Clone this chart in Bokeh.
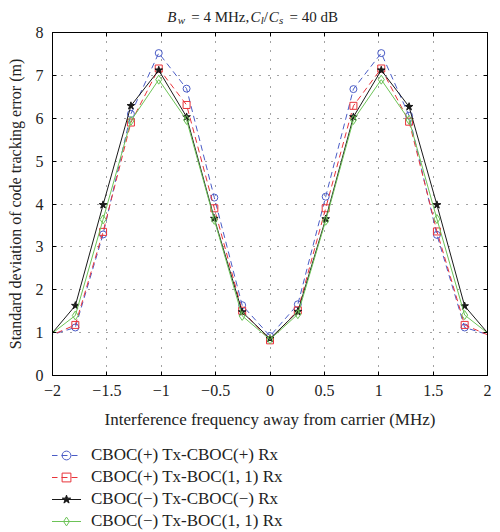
from bokeh.plotting import figure
from bokeh.layouts import column
from bokeh.models import (Range1d, FixedTicker, LinearAxis, CustomJSTickFormatter,
                          Legend, LegendItem)
from bokeh.core.properties import value
from bokeh.embed import file_html
from bokeh.resources import INLINE

# ---------------- data ----------------
freq = [-2.046, -1.790, -1.535, -1.279, -1.023, -0.767, -0.512, -0.256, 0.0,
        0.256, 0.512, 0.767, 1.023, 1.279, 1.535, 1.790, 2.046]
cboc_p_cboc_p = [0.92, 1.12, 3.29, 6.10, 7.52, 6.69, 4.15, 1.64, 0.92,
                 1.66, 4.17, 6.68, 7.52, 6.06, 3.28, 1.12, 0.92]
cboc_p_boc = [0.90, 1.18, 3.35, 5.90, 7.16, 6.31, 3.90, 1.51, 0.82,
              1.52, 3.90, 6.29, 7.16, 5.92, 3.36, 1.18, 0.90]
cboc_m_cboc_m = [0.86, 1.63, 3.98, 6.29, 7.12, 6.03, 3.66, 1.48, 0.86,
                 1.49, 3.65, 6.03, 7.12, 6.27, 3.98, 1.62, 0.86]
cboc_m_boc = [0.90, 1.40, 3.64, 5.94, 6.90, 5.96, 3.63, 1.39, 0.84,
              1.43, 3.61, 5.96, 6.90, 5.96, 3.65, 1.41, 0.90]
labels = ["CBOC(+) Tx-CBOC(+) Rx", "CBOC(+) Tx-BOC(1, 1) Rx",
          "CBOC(\u2212) Tx-CBOC(\u2212) Rx", "CBOC(\u2212) Tx-BOC(1, 1) Rx"]
x_ticks = [-2, -1.5, -1, -0.5, 0, 0.5, 1, 1.5, 2]
y_ticks = [0, 1, 2, 3, 4, 5, 6, 7, 8]
title_parts = ["B", "w", "= 4 MHz,", "C", "l", "/", "C", "s", "= 40 dB"]

FONT = "Liberation Serif"
TXT = "#222222"
W = 500
BL, BR = 52, 13

# ---------------- title strip ----------------
TH = 24
tp = figure(width=W, height=TH, output_backend="svg", toolbar_location=None,
            x_range=Range1d(0, W - BL - BR), y_range=Range1d(0, TH),
            x_axis_location=None, y_axis_location=None,
            min_border_left=BL, min_border_right=BR, min_border_top=0,
            min_border_bottom=0, outline_line_color=None)
tp.grid.visible = False
t_x = [166.7, 177.3, 190.7, 250.0, 260.3, 263.2, 268.2, 278.5, 289.0]
t_y = [7.5, 5.0, 7.5, 7.5, 5.0, 7.5, 7.5, 5.0, 7.5]
t_style = ["italic", "italic", "normal", "italic", "italic", "normal", "italic", "italic", "normal"]
t_size = ["15px", "11px", "15px", "15px", "11px", "15px", "15px", "11px", "15px"]
for txt, xx, yy, st, fs in zip(title_parts, t_x, t_y, t_style, t_size):
    tp.text(x=[xx - BL], y=[yy], text=[txt], text_font=value(FONT), text_font_size=fs,
            text_font_style=st, text_align="left", text_baseline="alphabetic",
            text_color=TXT)

# ---------------- main plot ----------------
p = figure(width=W, height=408, output_backend="svg", toolbar_location=None,
           x_range=Range1d(-2, 2), y_range=Range1d(0, 8),
           min_border_left=BL, min_border_right=BR, min_border_top=8,
           min_border_bottom=57)
p.outline_line_color = "black"
p.outline_line_width = 1

fmt = CustomJSTickFormatter(code="return tick < 0 ? '\u2212' + Math.abs(tick) : String(tick);")
blank = CustomJSTickFormatter(code="return '';")

xa = p.xaxis[0]
xa.ticker = FixedTicker(ticks=x_ticks)
xa.formatter = fmt
ya = p.yaxis[0]
ya.ticker = FixedTicker(ticks=y_ticks)
for ax in (xa, ya):
    ax.major_tick_in = 4
    ax.major_tick_out = 0
    ax.minor_tick_line_color = None
    ax.axis_line_color = "black"
    ax.major_tick_line_color = "black"
    ax.major_label_text_font = FONT
    ax.major_label_text_font_size = "16px"
    ax.major_label_text_color = TXT
    ax.axis_label_text_font = FONT
    ax.axis_label_text_font_style = "normal"
    ax.axis_label_text_color = TXT
xa.axis_label_text_font_size = "17px"
ya.axis_label_text_font_size = "16px"
xa.major_label_standoff = 9
ya.major_label_standoff = 9
xa.axis_label = "Interference frequency away from carrier (MHz)"
ya.axis_label = "Standard deviation of code tracking error (m)"
xa.axis_label_standoff = 11
ya.axis_label_standoff = 9

top = LinearAxis(ticker=FixedTicker(ticks=x_ticks), formatter=blank,
                 major_tick_in=4, major_tick_out=0, minor_tick_line_color=None,
                 major_label_standoff=0, axis_line_color="black")
right = LinearAxis(ticker=FixedTicker(ticks=y_ticks), formatter=blank,
                   major_tick_in=4, major_tick_out=0, minor_tick_line_color=None,
                   major_label_standoff=0, axis_line_color="black")
p.add_layout(top, "above")
p.add_layout(right, "right")

for g in (p.xgrid[0], p.ygrid[0]):
    g.grid_line_color = "#444444"
    g.grid_line_dash = "1 8"
    g.grid_line_width = 1
p.xgrid[0].ticker = FixedTicker(ticks=x_ticks)
p.ygrid[0].ticker = FixedTicker(ticks=y_ticks)

# ---------------- legend strip ----------------
# ranges far from the data so that its copies of the series only feed the legend icons
lp = figure(width=W, height=100, output_backend="svg", toolbar_location=None,
            x_range=Range1d(0, 1), y_range=Range1d(100, 101),
            x_axis_location=None, y_axis_location=None,
            min_border_left=BL, min_border_right=BR, min_border_top=0,
            min_border_bottom=0, outline_line_color=None)
lp.grid.visible = False

series = [
    (cboc_p_cboc_p, "#4a5cc6", "6 4", "circle", None, 7),
    (cboc_p_boc, "#e8333a", "6 4", "square", None, 7),
    (cboc_m_cboc_m, "#1a1a1a", "solid", "star", "#1a1a1a", 8),
    (cboc_m_boc, "#6cc357", "solid", "diamond", None, 9),
]
items = []
for (vals, col, dash, mk, fill, sz), lab in zip(series, labels):
    p.line(freq, vals, line_color=col, line_dash=dash, line_width=1)
    p.scatter(freq, vals, marker=mk, size=sz, line_color=col,
              fill_color=fill, line_width=1)
    lr = lp.line(freq, vals, line_color=col, line_dash=dash, line_width=1)
    sr = lp.scatter(freq, vals, marker=mk, size=sz - 2, line_color=col,
                    fill_color=fill, line_width=1)
    items.append(LegendItem(label=lab, renderers=[lr, sr]))

legend = Legend(items=items, location=(-1, 0), orientation="vertical",
                glyph_width=30, glyph_height=22, label_height=22, spacing=0,
                padding=0, margin=0, label_standoff=10,
                label_text_font=FONT, label_text_font_size="17px",
                label_text_color=TXT,
                border_line_color=None, background_fill_alpha=0)
lp.add_layout(legend, "center")

layout = column(tp, p, lp, spacing=0)

with open("out.html", "w", encoding="utf-8") as f:
    f.write(file_html(layout, INLINE))
